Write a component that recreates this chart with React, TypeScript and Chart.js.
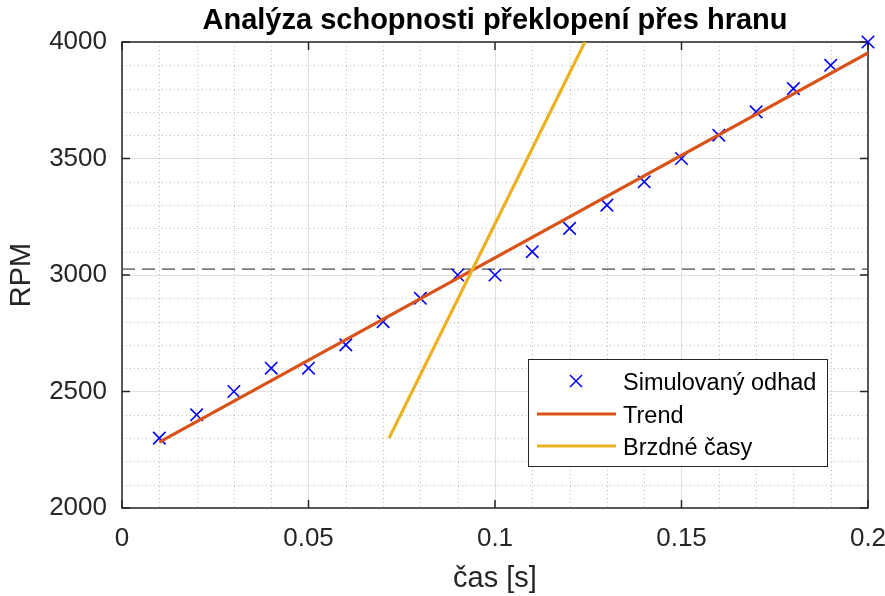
import React, { useEffect, useRef } from "react";
import { Chart, registerables } from "chart.js";

Chart.register(...registerables);

const titleText = "Analýza schopnosti překlopení přes hranu";
const xLabel = "čas [s]";
const yLabel = "RPM";

const timeS = [0.01, 0.02, 0.03, 0.04, 0.05, 0.06, 0.07, 0.08, 0.09, 0.1, 0.11, 0.12, 0.13, 0.14, 0.15, 0.16, 0.17, 0.18, 0.19, 0.2];
const rpmSim = [2300, 2400, 2500, 2600, 2600, 2700, 2800, 2900, 3000, 3000, 3100, 3200, 3300, 3400, 3500, 3600, 3700, 3800, 3900, 4000];

const trendX = [0.01, 0.2];
const trendY = [2283, 3953];

const brakeX = [0.0716, 0.1241];
const brakeY = [2300, 4000];

const thresholdX = [0, 0.2];
const thresholdY = [3025, 3025];

const xTicks = [0, 0.05, 0.1, 0.15, 0.2];
const yTicks = [2000, 2500, 3000, 3500, 4000];
const xMinorStep = 0.01;
const yMinorStep = 100;

const legendLabels = ["Simulovaný odhad", "Trend", "Brzdné časy"];

const FONT = "'Liberation Sans', Arial, Helvetica, sans-serif";
const AX = "#262626";
const BLUE = "#0000ff";
const ORANGE = "#d95319";
const YELLOW = "#edb120";

const zip = (xs: number[], ys: number[]) => xs.map((x, i) => ({ x, y: ys[i] }));

const decorPlugin = {
  id: "decor",
  beforeDatasetsDraw(chart: any) {
    const { ctx, chartArea: a, scales } = chart;
    const xs = scales.x;
    const ys = scales.y;
    ctx.save();
    ctx.strokeStyle = "rgba(38,38,38,0.3)";
    ctx.lineWidth = 1;
    ctx.setLineDash([1, 3]);
    for (let i = 0; i <= Math.round((xs.max - xs.min) / xMinorStep); i++) {
      const v = xs.min + i * xMinorStep;
      if (xTicks.some((t) => Math.abs(t - v) < 1e-9)) continue;
      const px = Math.round(xs.getPixelForValue(v)) + 0.5;
      ctx.beginPath();
      ctx.moveTo(px, a.top);
      ctx.lineTo(px, a.bottom);
      ctx.stroke();
    }
    for (let i = 0; i <= Math.round((ys.max - ys.min) / yMinorStep); i++) {
      const v = ys.min + i * yMinorStep;
      if (yTicks.some((t) => Math.abs(t - v) < 1e-9)) continue;
      const py = Math.round(ys.getPixelForValue(v)) + 0.5;
      ctx.beginPath();
      ctx.moveTo(a.left, py);
      ctx.lineTo(a.right, py);
      ctx.stroke();
    }
    ctx.setLineDash([]);
    ctx.strokeStyle = AX;
    ctx.lineWidth = 1.5;
    ctx.strokeRect(a.left, a.top, a.right - a.left, a.bottom - a.top);
    const tl = 8;
    ctx.beginPath();
    xTicks.forEach((t) => {
      const px = xs.getPixelForValue(t);
      ctx.moveTo(px, a.bottom);
      ctx.lineTo(px, a.bottom - tl);
      ctx.moveTo(px, a.top);
      ctx.lineTo(px, a.top + tl);
    });
    yTicks.forEach((t) => {
      const py = ys.getPixelForValue(t);
      ctx.moveTo(a.left, py);
      ctx.lineTo(a.left + tl, py);
      ctx.moveTo(a.right, py);
      ctx.lineTo(a.right - tl, py);
    });
    ctx.stroke();
    ctx.restore();
  },
  afterDraw(chart: any) {
    const { ctx, chartArea: a } = chart;
    ctx.save();
    ctx.fillStyle = "#000";
    ctx.font = `bold 29px ${FONT}`;
    ctx.textAlign = "center";
    ctx.textBaseline = "alphabetic";
    ctx.fillText(titleText, (a.left + a.right) / 2, 29);
    const lx = 528, ly = 359, lw = 299, lh = 107;
    ctx.fillStyle = "#fff";
    ctx.fillRect(lx, ly, lw, lh);
    ctx.strokeStyle = AX;
    ctx.lineWidth = 1;
    ctx.strokeRect(lx + 0.5, ly + 0.5, lw, lh);
    const rows = [381, 414, 446];
    ctx.strokeStyle = BLUE;
    ctx.lineWidth = 1.5;
    const mx = 576, my = rows[0], r = 6;
    ctx.beginPath();
    ctx.moveTo(mx - r, my - r);
    ctx.lineTo(mx + r, my + r);
    ctx.moveTo(mx - r, my + r);
    ctx.lineTo(mx + r, my - r);
    ctx.stroke();
    ctx.lineWidth = 3;
    ctx.strokeStyle = ORANGE;
    ctx.beginPath();
    ctx.moveTo(537, rows[1]);
    ctx.lineTo(616, rows[1]);
    ctx.stroke();
    ctx.strokeStyle = YELLOW;
    ctx.beginPath();
    ctx.moveTo(537, rows[2]);
    ctx.lineTo(616, rows[2]);
    ctx.stroke();
    ctx.fillStyle = "#000";
    ctx.font = `23.5px ${FONT}`;
    ctx.textAlign = "left";
    ctx.textBaseline = "alphabetic";
    legendLabels.forEach((t, i) => ctx.fillText(t, 623, rows[i] + 8.5));
    ctx.restore();
  },
};

export default function App() {
  const ref = useRef<HTMLCanvasElement | null>(null);
  useEffect(() => {
    if (!ref.current) return;
    const chart = new Chart(ref.current, {
      type: "scatter",
      data: {
        datasets: [
          {
            label: legendLabels[2],
            data: zip(brakeX, brakeY),
            showLine: true,
            borderColor: YELLOW,
            borderWidth: 3.2,
            pointRadius: 0,
            fill: false,
          },
          {
            label: legendLabels[1],
            data: zip(trendX, trendY),
            showLine: true,
            borderColor: ORANGE,
            borderWidth: 3.2,
            pointRadius: 0,
            fill: false,
          },
          {
            label: legendLabels[0],
            data: zip(timeS, rpmSim),
            showLine: false,
            pointStyle: "crossRot",
            pointRadius: 8.8,
            pointBorderColor: BLUE,
            pointBackgroundColor: BLUE,
            pointBorderWidth: 1.6,
            clip: false,
          } as any,
          {
            label: "threshold",
            data: zip(thresholdX, thresholdY),
            showLine: true,
            borderColor: "#4d4d4d",
            borderWidth: 1.2,
            borderDash: [13, 7],
            pointRadius: 0,
            fill: false,
          },
        ],
      },
      options: {
        animation: false,
        responsive: false,
        devicePixelRatio: 1,
        layout: { padding: { left: 0, right: 17, top: 42, bottom: 0 } },
        plugins: {
          legend: { display: false },
          title: { display: false },
          tooltip: { enabled: false },
        },
        scales: {
          x: {
            type: "linear",
            min: 0,
            max: 0.2,
            afterFit: (s: any) => {
              s.height = 88;
              s.paddingLeft = 0;
              s.paddingRight = 0;
            },
            afterBuildTicks: (s: any) => {
              s.ticks = xTicks.map((v) => ({ value: v }));
            },
            ticks: {
              color: AX,
              font: { family: FONT, size: 26 },
              padding: 15,
              maxRotation: 0,
              callback: (v: any) => String(Number(v)),
            },
            grid: { color: "#e1e1e1", lineWidth: 1, drawTicks: false },
            border: { display: false },
            title: {
              display: true,
              text: xLabel,
              color: AX,
              font: { family: FONT, size: 29 },
              padding: { top: 0, bottom: 0 },
            },
          },
          y: {
            type: "linear",
            min: 2000,
            max: 4000,
            afterFit: (s: any) => {
              s.width = 122;
              s.paddingTop = 0;
              s.paddingBottom = 0;
            },
            afterBuildTicks: (s: any) => {
              s.ticks = yTicks.map((v) => ({ value: v }));
            },
            ticks: {
              color: AX,
              font: { family: FONT, size: 26 },
              padding: 15,
              callback: (v: any) => String(Number(v)),
            },
            grid: { color: "#e1e1e1", lineWidth: 1, drawTicks: false },
            border: { display: false },
            title: {
              display: true,
              text: yLabel,
              color: AX,
              font: { family: FONT, size: 29 },
              padding: { top: 5, bottom: 0 },
            },
          },
        },
      },
      plugins: [decorPlugin],
    });
    return () => chart.destroy();
  }, []);
  return (
    <div style={{ position: "absolute", left: 0, top: 0, width: 885, height: 596, background: "#fff" }}>
      <canvas ref={ref} width={885} height={596} style={{ display: "block" }} />
    </div>
  );
}
